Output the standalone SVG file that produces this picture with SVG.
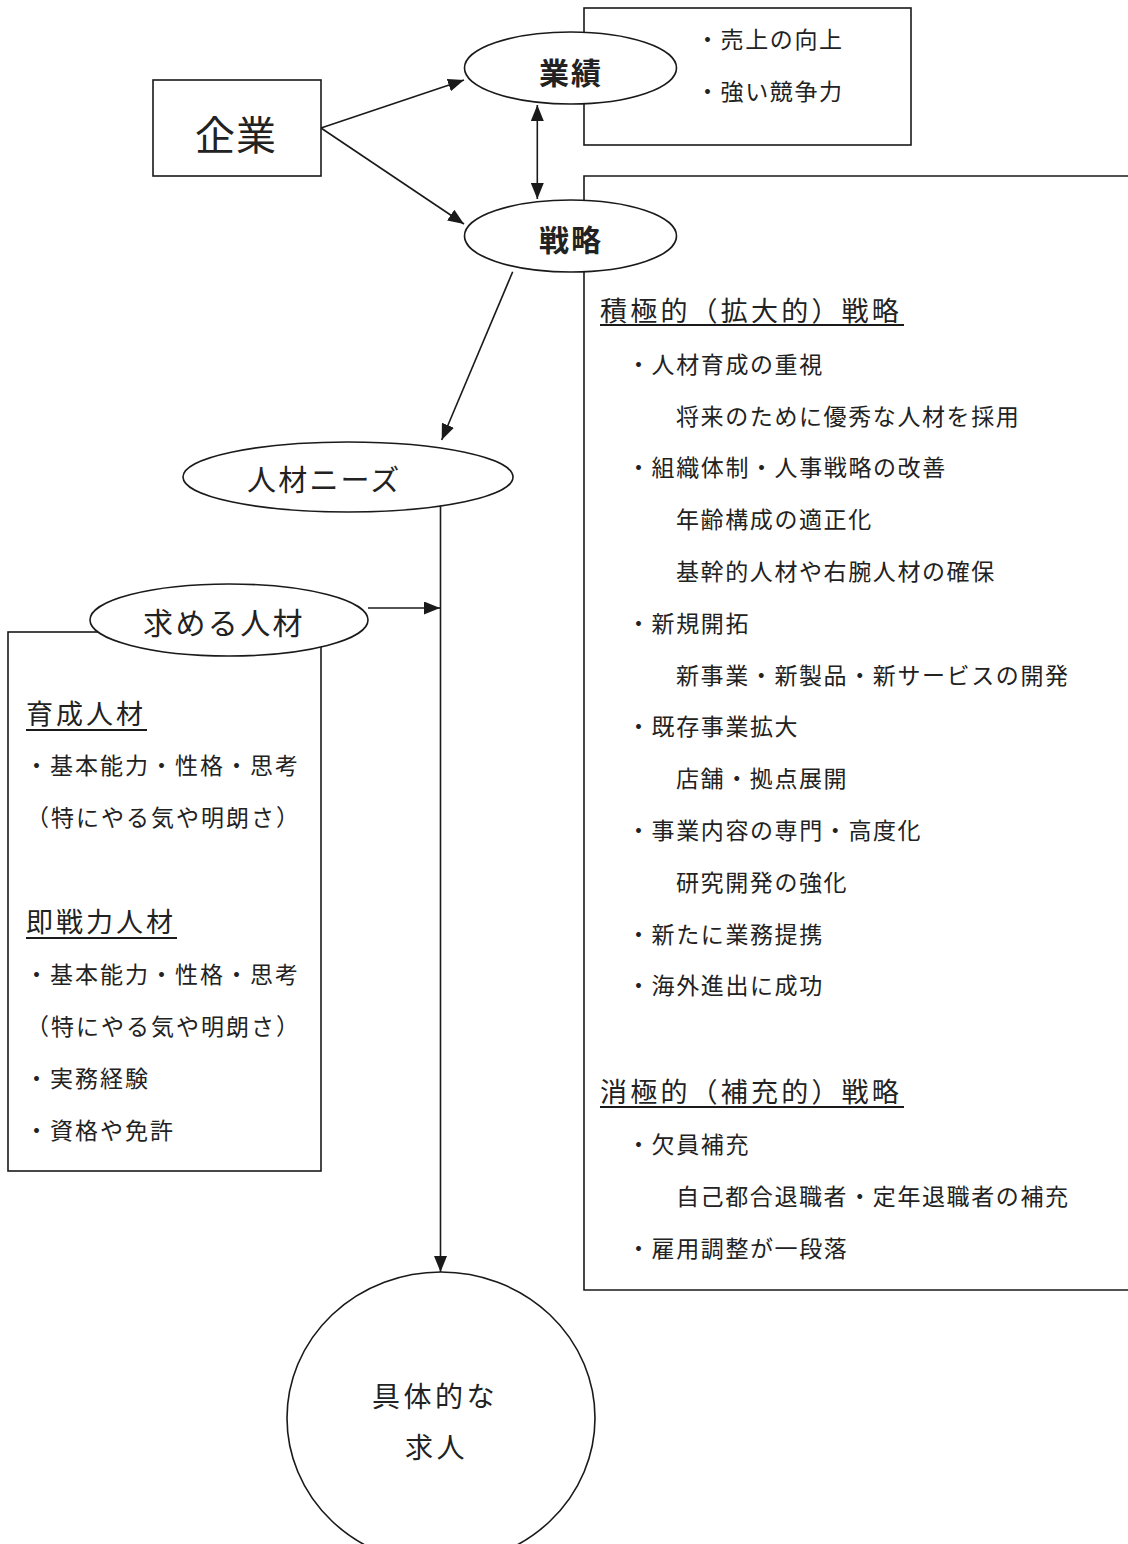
<svg xmlns="http://www.w3.org/2000/svg" width="1128" height="1544" viewBox="0 0 1128 1544">
<defs>
<style>
.ln{fill:none;stroke:#1a1a1a;stroke-width:1.6}
.sh{fill:#fff;stroke:#1a1a1a;stroke-width:1.6}
.ul{stroke:#1a1a1a;stroke-width:2}
text{font-family:"Noto Sans CJK JP","Noto Sans CJK SC",sans-serif;fill:#222}
.b{font-size:23px;letter-spacing:1.6px}
.bl{font-size:23px;letter-spacing:2px}
.h{font-size:27px;letter-spacing:3.2px}
.hl{font-size:27px;letter-spacing:3px}
.bold{font-size:30px;font-weight:bold;letter-spacing:2px}
</style>
<marker id="ah" markerUnits="userSpaceOnUse" markerWidth="17" markerHeight="13" viewBox="0 0 17 13" refX="16" refY="6.5" orient="auto-start-reverse">
<path d="M0,0 L16,6.5 L0,13 z" fill="#1a1a1a"/>
</marker>
</defs>
<rect width="1128" height="1544" fill="#fff"/>

<g id="performance-box">
<rect class="ln" x="584" y="8" width="327" height="137"/>
<text class="b" x="696" y="47.5">・売上の向上</text>
<text class="b" x="696" y="100">・強い競争力</text>
</g>

<g id="strategy-box">
<path class="ln" d="M1130,176 H584 V1290 H1130"/>
<text class="h" x="600" y="321.3">積極的（拡大的）戦略</text>
<line class="ul" x1="600" y1="325" x2="904" y2="325"/>
<text class="b" x="627" y="372.7">・人材育成の重視</text>
<text class="b" x="676" y="424.5">将来のために優秀な人材を採用</text>
<text class="b" x="627" y="476.3">・組織体制・人事戦略の改善</text>
<text class="b" x="676" y="528.1">年齢構成の適正化</text>
<text class="b" x="676" y="579.9">基幹的人材や右腕人材の確保</text>
<text class="b" x="627" y="631.7">・新規開拓</text>
<text class="b" x="676" y="683.5">新事業・新製品・新サービスの開発</text>
<text class="b" x="627" y="735.3">・既存事業拡大</text>
<text class="b" x="676" y="787.1">店舗・拠点展開</text>
<text class="b" x="627" y="838.9">・事業内容の専門・高度化</text>
<text class="b" x="676" y="890.7">研究開発の強化</text>
<text class="b" x="627" y="942.5">・新たに業務提携</text>
<text class="b" x="627" y="994.3">・海外進出に成功</text>
<text class="h" x="600" y="1102.3">消極的（補充的）戦略</text>
<line class="ul" x1="600" y1="1107" x2="904" y2="1107"/>
<text class="b" x="627" y="1152.7">・欠員補充</text>
<text class="b" x="676" y="1204.7">自己都合退職者・定年退職者の補充</text>
<text class="b" x="627" y="1256.7">・雇用調整が一段落</text>
</g>

<g id="talent-box">
<rect class="ln" x="8" y="632" width="313" height="539"/>
<text class="hl" x="26" y="723.8">育成人材</text>
<line class="ul" x1="26" y1="730" x2="147" y2="730"/>
<text class="bl" x="25" y="773.7">・基本能力・性格・思考</text>
<text class="bl" x="26" y="825.7">（特にやる気や明朗さ）</text>
<text class="hl" x="26" y="932.3">即戦力人材</text>
<line class="ul" x1="26" y1="938" x2="177" y2="938"/>
<text class="bl" x="25" y="982.7">・基本能力・性格・思考</text>
<text class="bl" x="26" y="1034.7">（特にやる気や明朗さ）</text>
<text class="bl" x="25" y="1086.7">・実務経験</text>
<text class="bl" x="25" y="1138.7">・資格や免許</text>
</g>

<g id="connectors">
<line class="ln" x1="321" y1="128" x2="464" y2="80" marker-end="url(#ah)"/>
<line class="ln" x1="321" y1="128" x2="464" y2="224" marker-end="url(#ah)"/>
<line class="ln" x1="537.3" y1="105" x2="537.3" y2="199" marker-start="url(#ah)" marker-end="url(#ah)"/>
<line class="ln" x1="512.7" y1="271.7" x2="441.7" y2="440" marker-end="url(#ah)"/>
<line class="ln" x1="440.5" y1="505" x2="440.5" y2="1272" marker-end="url(#ah)"/>
<line class="ln" x1="368" y1="608" x2="440" y2="608" marker-end="url(#ah)"/>
</g>

<g id="company">
<rect class="sh" x="153" y="80" width="168" height="96"/>
<text x="195" y="150.2" style="font-size:40px;letter-spacing:1px">企業</text>
</g>

<g id="performance">
<ellipse class="sh" cx="570.5" cy="68" rx="106" ry="36"/>
<text class="bold" x="539" y="84.4">業績</text>
</g>

<g id="strategy">
<ellipse class="sh" cx="570.5" cy="236" rx="106" ry="36"/>
<text class="bold" x="539" y="251.4">戦略</text>
</g>

<g id="talent-needs">
<ellipse class="sh" cx="348" cy="477" rx="165" ry="35"/>
<text x="247" y="491" style="font-size:29px;letter-spacing:2.2px">人材ニーズ</text>
</g>

<g id="desired-talent">
<ellipse class="sh" cx="229" cy="620" rx="139" ry="36"/>
<text x="143" y="634.4" style="font-size:30px;letter-spacing:2.4px">求める人材</text>
</g>

<g id="job-offer">
<ellipse class="sh" cx="441" cy="1418" rx="154" ry="146"/>
<text x="372" y="1406.6" style="font-size:28px;letter-spacing:3.5px">具体的な</text>
<text x="405" y="1457.6" style="font-size:28px;letter-spacing:3.5px">求人</text>
</g>
</svg>
